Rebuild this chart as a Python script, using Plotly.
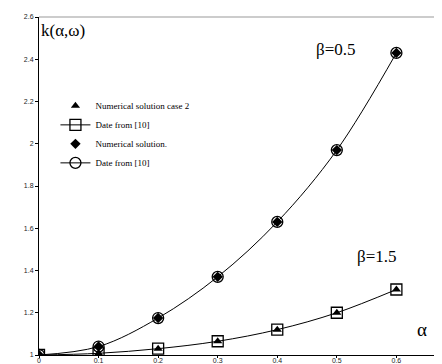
import plotly.graph_objects as go

alpha = [0, 0.1, 0.2, 0.3, 0.4, 0.5, 0.6]
k_beta05 = [1.0, 1.04, 1.175, 1.37, 1.63, 1.97, 2.43]
k_beta15 = [1.0, 1.008, 1.03, 1.065, 1.12, 1.2, 1.31]
x_ticks = [0, 0.1, 0.2, 0.3, 0.4, 0.5, 0.6]
x_tick_labels = ["0", "0.1", "0.2", "0.3", "0.4", "0.5", "0.6"]
y_ticks = [1, 1.2, 1.4, 1.6, 1.8, 2.0, 2.2, 2.4, 2.6]
y_tick_labels = ["1", "1.2", "1.4", "1.6", "1.8", "2", "2.2", "2.4", "2.6"]
legend_names = ["Numerical solution case 2", "Date from [10]", "Numerical solution.", "Date from [10]"]

serif = "Liberation Serif, Times New Roman, serif"
fig = go.Figure()

# open markers with lines (drawn first)
fig.add_trace(go.Scatter(
    x=alpha, y=k_beta15, mode="lines+markers", name=legend_names[1], legendrank=2,
    line=dict(color="black", width=1, shape="spline"),
    marker=dict(symbol="square-open", size=11, color="black", line=dict(width=1.3))))
fig.add_trace(go.Scatter(
    x=alpha, y=k_beta05, mode="lines+markers", name=legend_names[3], legendrank=4,
    line=dict(color="black", width=1, shape="spline"),
    marker=dict(symbol="circle-open", size=11, color="black", line=dict(width=1.3))))
# filled markers on top
fig.add_trace(go.Scatter(
    x=alpha, y=k_beta15, mode="markers", name=legend_names[0], legendrank=1,
    marker=dict(symbol="triangle-up", size=8, color="black")))
fig.add_trace(go.Scatter(
    x=alpha, y=k_beta05, mode="markers", name=legend_names[2], legendrank=3,
    marker=dict(symbol="diamond", size=8, color="black")))

fig.update_layout(
    width=442, height=364,
    margin=dict(l=31, r=0, t=9, b=17),
    paper_bgcolor="white", plot_bgcolor="white",
    showlegend=True,
    legend=dict(x=0.04, y=0.78, xanchor="left", yanchor="top",
                font=dict(family=serif, size=9, color="black"),
                bgcolor="rgba(0,0,0,0)", tracegroupgap=0, itemwidth=30),
    xaxis=dict(range=[0, 0.69], tickvals=x_ticks, ticktext=x_tick_labels,
               showgrid=False, zeroline=False, showline=True, linecolor="black", linewidth=1,
               ticks="outside", ticklen=2, tickcolor="black", ticklabelstandoff=-3,
               tickfont=dict(family="Arial", size=7, color="#222")),
    yaxis=dict(range=[1, 2.6], tickvals=y_ticks, ticktext=y_tick_labels,
               showgrid=False, zeroline=False, showline=True, linecolor="black", linewidth=1,
               ticks="outside", ticklen=3, tickcolor="black",
               tickfont=dict(family="Arial", size=7, color="#222")),
    shapes=[dict(type="line", xref="paper", yref="paper", x0=0, x1=1, y0=1, y1=1,
                 line=dict(color="#999", width=1))],
    annotations=[
        dict(text="k(α,ω)", xref="paper", yref="paper", x=0.0, y=0.96, xanchor="left", yanchor="middle",
             showarrow=False, font=dict(family=serif, size=17, color="black")),
        dict(text="β=0.5", xref="paper", yref="paper", x=0.67, y=0.905, xanchor="left", yanchor="middle",
             showarrow=False, font=dict(family=serif, size=17, color="black")),
        dict(text="β=1.5", xref="paper", yref="paper", x=0.77, y=0.29, xanchor="left", yanchor="middle",
             showarrow=False, font=dict(family=serif, size=17, color="black")),
        dict(text="α", xref="paper", yref="paper", x=0.915, y=0.075, xanchor="left", yanchor="middle",
             showarrow=False, font=dict(family=serif, size=19, color="black")),
    ],
)

fig.write_html("out.html")
